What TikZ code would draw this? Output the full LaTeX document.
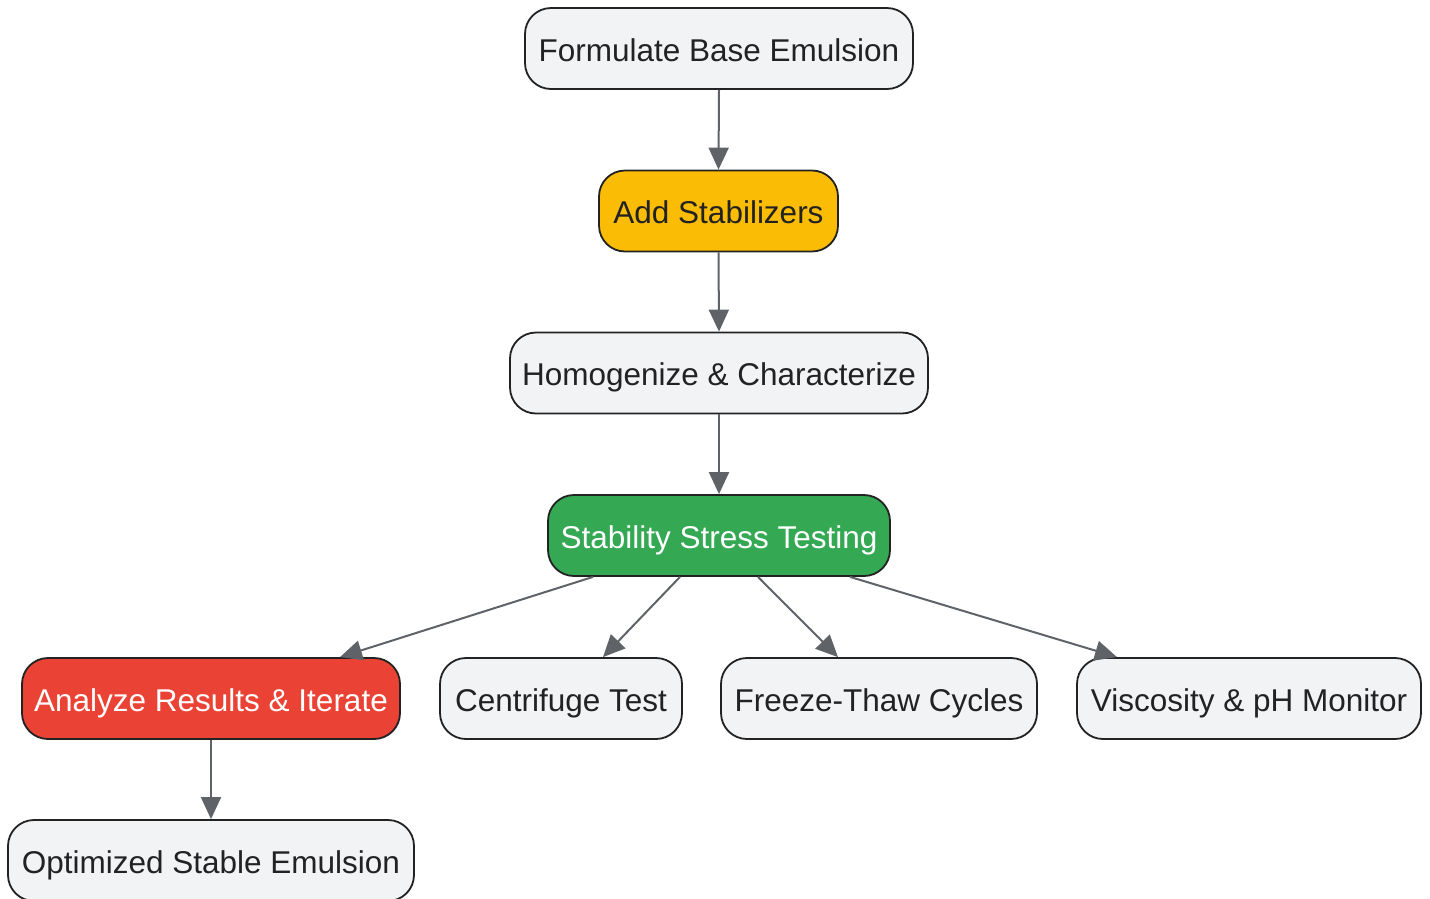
\documentclass[tikz,border=0pt]{standalone}
\usepackage{fontspec}
\setmainfont{Liberation Sans}
\usetikzlibrary{arrows.meta,calc}
\definecolor{boxfill}{HTML}{F1F3F5}
\definecolor{boxline}{HTML}{222222}
\definecolor{yel}{HTML}{FBBC05}
\definecolor{grn}{HTML}{34A853}
\definecolor{redc}{HTML}{EA4335}
\definecolor{arr}{HTML}{5F6368}
\definecolor{txt}{HTML}{222222}
\tikzset{
  box/.style={draw=boxline, line width=1.8pt, fill=boxfill, rounded corners=26pt,
    minimum height=81pt, inner sep=0pt, text=txt, text height=25pt, text depth=0pt,
    font=\fontsize{31.5}{36}\selectfont},
  conn/.style={draw=arr, line width=2pt, -{Triangle[length=22pt,width=20pt]}}
}
\begin{document}
\begin{tikzpicture}[x=1pt,y=-1pt]
\useasboundingbox (0,0) rectangle (1430,898);
\node[box, minimum width=388pt] (fbe) at (719,48.5) {Formulate Base Emulsion};
\node[box, minimum width=239pt, fill=yel] (add) at (718.5,211) {Add Stabilizers};
\node[box, minimum width=418pt] (hom) at (719,373) {Homogenize \& Characterize};
\node[box, minimum width=342pt, fill=grn, text=white] (stt) at (719,535.5) {Stability Stress Testing};
\node[box, minimum width=378pt, fill=redc, text=white] (ana) at (211,698.5) {Analyze Results \& Iterate};
\node[box, minimum width=242pt] (cen) at (561,698.5) {Centrifuge Test};
\node[box, minimum width=316pt] (ftc) at (879,698.5) {Freeze-Thaw Cycles};
\node[box, minimum width=344pt] (vis) at (1249,698.5) {Viscosity \& pH Monitor};
\node[box, minimum width=406pt] (opt) at (211,860.5) {Optimized Stable Emulsion};
\draw[conn] (fbe.south) -- (add.north);
\draw[conn] (add.south) -- (hom.north);
\draw[conn] (hom.south) -- (stt.north);
\draw[conn] ([xshift=-126pt]stt.south) -- ([xshift=129pt]ana.north);
\draw[conn] ([xshift=-39pt]stt.south) -- ([xshift=42pt]cen.north);
\draw[conn] ([xshift=39pt]stt.south) -- ([xshift=-41pt]ftc.north);
\draw[conn] ([xshift=131pt]stt.south) -- ([xshift=-132pt]vis.north);
\draw[conn] (ana.south) -- (opt.north);
\end{tikzpicture}
\end{document}
